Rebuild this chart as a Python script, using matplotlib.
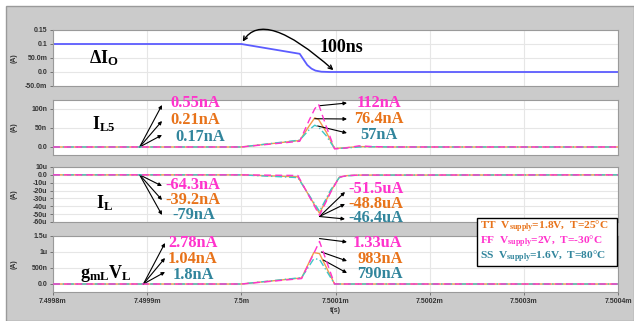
import matplotlib
matplotlib.use("Agg")
import matplotlib.pyplot as plt
from matplotlib.patches import Rectangle, FancyArrowPatch

plt.rcParams['mathtext.fontset'] = 'custom'
plt.rcParams['mathtext.rm'] = 'Liberation Serif:bold'
plt.rcParams['mathtext.it'] = 'Liberation Serif:bold'
plt.rcParams['mathtext.bf'] = 'Liberation Serif:bold'

# ---------------- data (time in ns relative to 7.5 ms) ----------------
x_ticks = [-200, -100, 0, 100, 200, 300, 400]
x_tick_labels = ['7.4998m', '7.4999m', '7.5m', '7.5001m', '7.5002m', '7.5003m', '7.5004m']

# Panel 1: delta Io (A)
t_io = [-200, 0, 62, 66, 70, 74.5, 78.7, 85, 94, 400]
io = [0.1, 0.1, 0.065, 0.045, 0.025, 0.012, 0.005, 0.001, 0.0, 0.0]

# Panel 2: IL5 (nA)
t_l5 = [-200, 0, 62, 72, 78, 82, 90, 99, 110, 125, 140, 160, 400]
l5_ff = [0, 0, 15, 70, 100, 112, 55, -5, -3, 3, 1, 0, 0]
l5_tt = [0, 0, 17, 55, 76.4, 72, 40, -4, -2, 1, 0.5, 0, 0]
l5_ss = [0, 0, 18, 45, 57, 52, 30, -4, -3, 0, 0.5, 0, 0]

# Panel 3: IL (uA)
t_l = [-200, 0, 60, 83, 95, 104, 112, 125, 400]
l_ff = [0, 0, -0.8, -51.5, -22, -3, -1, -0.3, 0]
l_tt = [0, 0, -2.5, -48.8, -21, -3, -1, -0.3, 0]
l_ss = [0, 0, -3.5, -46.4, -19, -3.5, -1.2, -0.3, 0]

# Panel 4: gmL*VL (uA)
t_g = [-200, 0, 64, 77, 83, 99, 400]
g_ff = [0, 0, 0.17, 0.96, 1.33, 0, 0]
g_tt = [0, 0, 0.19, 0.983, 0.95, 0, 0]
g_ss = [0, 0, 0.2, 0.79, 0.77, 0, 0]

p1_ticks = [0.15, 0.1, 0.05, 0.0, -0.05]
p1_labels = ['0.15', '0.1', '50.0m', '0.0', '-50.0m']
p2_ticks = [100, 50, 0]
p2_labels = ['100n', '50n', '0.0']
p3_ticks = [10, 0, -10, -20, -30, -40, -50, -60]
p3_labels = ['10u', '0.0', '-10u', '-20u', '-30u', '-40u', '-50u', '-60u']
p4_ticks = [1.5, 1.0, 0.5, 0.0]
p4_labels = ['1.5u', '1u', '500n', '0.0']

# ---------------- style ----------------
C_FF = '#FF33CC'
C_TT = '#F59A4A'
C_SS = '#3FC6C6'
T_FF = '#FF33CC'
T_TT = '#E8731A'
T_SS = '#31859C'
BLUE = '#5C5CFF'

W, H = 634, 321
fig = plt.figure(figsize=(W / 100, H / 100), dpi=100, facecolor='white')


def fx(px):
    return px / W


def fy(py):
    return 1 - py / H


fig.patches.append(Rectangle((fx(6), 0), 1 - fx(6), fy(6), transform=fig.transFigure,
                             facecolor='#CBCBCB', edgecolor='#9A9A9A', lw=1, zorder=-10))

panels = [(30, 86), (100, 155), (167, 222), (236, 292)]
axes = []
for (top, bot) in panels:
    ax = fig.add_axes([fx(53), fy(bot), fx(618) - fx(53), (bot - top) / H])
    ax.set_facecolor('white')
    for s in ax.spines.values():
        s.set_color('#9A9A9A')
        s.set_linewidth(0.8)
    ax.set_xlim(-200, 400)
    ax.set_xticks(x_ticks)
    ax.grid(True, color='#E6E6E6', lw=0.8)
    ax.set_axisbelow(True)
    ax.tick_params(axis='both', length=2.5, width=0.6, color='#666666',
                   labelsize=5, labelcolor='#333333', pad=1.5)
    fig.text(fx(14), fy((top + bot) / 2), '(A)', rotation=90, fontsize=5,
             fontweight='bold', color='#333333', ha='center', va='center',
             family='Liberation Sans')
    axes.append(ax)

ax1, ax2, ax3, ax4 = axes

ax1.plot(t_io, io, color=BLUE, lw=1.3)
ax1.set_ylim(-0.05, 0.15)
ax1.set_yticks(p1_ticks, p1_labels)


def three(ax, t, ff, tt, ss):
    ax.plot(t, tt, color=C_TT, lw=1.0, zorder=3)
    ax.plot(t, ss, color=C_SS, lw=1.0, ls=(0, (5, 2, 1, 2)), zorder=4)
    ax.plot(t, ff, color=C_FF, lw=1.0, ls=(0, (5, 3)), zorder=5)


three(ax2, t_l5, l5_ff, l5_tt, l5_ss)
ax2.set_ylim(-21, 123)
ax2.set_yticks(p2_ticks, p2_labels)

three(ax3, t_l, l_ff, l_tt, l_ss)
ax3.set_ylim(-60, 10)
ax3.set_yticks(p3_ticks, p3_labels)

three(ax4, t_g, g_ff, g_tt, g_ss)
ax4.set_ylim(-0.25, 1.5)
ax4.set_yticks(p4_ticks, p4_labels)

for ax in axes[:3]:
    ax.tick_params(axis='x', labelbottom=False, length=0)
ax4.set_xticklabels(x_tick_labels)
for lab in ax4.get_xticklabels() + ax4.get_yticklabels() + ax1.get_yticklabels() + \
        ax2.get_yticklabels() + ax3.get_yticklabels():
    lab.set_fontweight('bold')
    lab.set_family('Liberation Sans')
fig.text(fx(335), fy(311), 't(s)', fontsize=5, fontweight='bold', color='#333333',
         ha='center', va='center', family='Liberation Sans')

# ---------------- labels ----------------
SERIF = 'Liberation Serif'
big = dict(fontsize=13, family=SERIF, fontweight='bold', color='black', va='center', ha='left')
fig.text(fx(89), fy(58), r'$\mathregular{\Delta I_O}$', **big)
fig.text(fx(92), fy(124), r'$\mathregular{I_{L5}}$', **big)
fig.text(fx(96), fy(203), r'$\mathregular{I_L}$', **big)
fig.text(fx(80), fy(274), r'$\mathregular{g_{mL}V_L}$', **big)
fig.text(fx(320), fy(47), '100ns', fontsize=13, family=SERIF, fontweight='bold',
         va='center', ha='left')

arc = FancyArrowPatch((0, 0.1), (100, 0.0),
                      connectionstyle='angle3,angleA=62,angleB=138', arrowstyle='<->',
                      mutation_scale=7, lw=1.0, color='black', clip_on=False)
fig.patches.append(arc)
arc.set_transform(ax1.transData)


def arrow(ax, tail, head_px):
    ax.annotate('', xy=(fx(head_px[0]), fy(head_px[1])), xycoords='figure fraction',
                xytext=tail, textcoords='data',
                arrowprops=dict(arrowstyle='-|>', color='black', lw=0.8,
                                mutation_scale=5, shrinkA=0, shrinkB=0),
                annotation_clip=False)


def label(px, py, s, c):
    fig.text(fx(px), fy(py), s, fontsize=11.8, family=SERIF, fontweight='bold',
             color=c, ha='left', va='center')


# panel 2
for hp in [(162, 105), (162, 121), (162, 135)]:
    arrow(ax2, (-108, 0), hp)
label(170, 103, '0.55nA', T_FF)
label(170, 120, '0.21nA', T_TT)
label(175, 137, '0.17nA', T_SS)
arrow(ax2, (83, 108), (347, 103))
arrow(ax2, (78, 74), (347, 119))
arrow(ax2, (81, 55), (347, 133))
label(357, 103, '112nA', T_FF)
label(354, 119, '76.4nA', T_TT)
label(360, 135, '57nA', T_SS)

# panel 3
for hp in [(162, 186), (162, 200), (162, 215)]:
    arrow(ax3, (-108, 0), hp)
label(165, 185, '-64.3nA', T_FF)
label(165, 200, '-39.2nA', T_TT)
label(172, 215, '-79nA', T_SS)
for hp in [(345, 192), (345, 204), (345, 219)]:
    arrow(ax3, (83, -53), hp)
label(348, 189, '-51.5uA', T_FF)
label(348, 203.5, '-48.8uA', T_TT)
label(348, 218, '-46.4uA', T_SS)

# panel 4
for hp in [(165, 243), (165, 258), (165, 272)]:
    arrow(ax4, (-104, 0), hp)
label(168, 243, '2.78nA', T_FF)
label(168, 259, '1.04nA', T_TT)
label(173, 275, '1.8nA', T_SS)
arrow(ax4, (83, 1.42), (347, 242))
arrow(ax4, (85, 1.0), (347, 261))
arrow(ax4, (87, 0.75), (347, 273))
label(353, 243, '1.33uA', T_FF)
label(357, 259, '983nA', T_TT)
label(357, 274, '790nA', T_SS)

# legend box
fig.patches.append(Rectangle((fx(477), fy(266)), fx(617) - fx(477), (266 - 218) / H,
                             transform=fig.transFigure, facecolor='white',
                             edgecolor='black', lw=1, zorder=20))
leg = dict(fontsize=8.2, family=SERIF, fontweight='bold', ha='left', va='center', zorder=21)
fig.text(fx(480), fy(227), r'TT  V$_{\mathregular{supply}}$=1.8V,  T=25°C', color=T_TT, **leg)
fig.text(fx(480), fy(242), r'FF  V$_{\mathregular{supply}}$=2V,  T=-30°C', color=T_FF, **leg)
fig.text(fx(480), fy(257), r'SS  V$_{\mathregular{supply}}$=1.6V,  T=80°C', color=T_SS, **leg)

fig.savefig('out.png', dpi=100, facecolor='white')
